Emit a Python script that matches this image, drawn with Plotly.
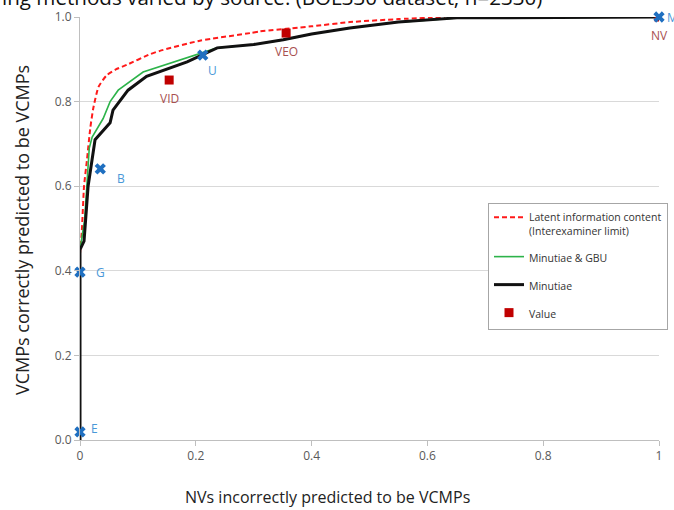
import plotly.graph_objects as go

# ROC-style curves: false positive rate (NVs called VCMPs) vs true positive rate
latent_x = [0.0, 0.003, 0.007, 0.012, 0.018, 0.023, 0.032, 0.046, 0.062, 0.081, 0.121, 0.138, 0.207, 0.294, 0.311, 0.40, 0.466, 0.55, 0.63]
latent_y = [0.44, 0.49, 0.60, 0.662, 0.74, 0.785, 0.835, 0.862, 0.876, 0.887, 0.912, 0.920, 0.944, 0.962, 0.966, 0.978, 0.988, 0.995, 1.0]

gbu_x = [0.0, 0.0, 0.008, 0.016, 0.021, 0.040, 0.052, 0.066, 0.109, 0.207, 0.237, 0.30, 0.351, 0.40, 0.466, 0.55, 0.651, 1.0]
gbu_y = [0.0, 0.45, 0.52, 0.69, 0.716, 0.76, 0.80, 0.827, 0.87, 0.915, 0.927, 0.935, 0.946, 0.96, 0.974, 0.988, 0.998, 1.0]

min_x = [0.0, 0.0, 0.007, 0.014, 0.026, 0.052, 0.057, 0.083, 0.115, 0.185, 0.237, 0.30, 0.351, 0.40, 0.466, 0.55, 0.651, 1.0]
min_y = [0.0, 0.45, 0.47, 0.60, 0.71, 0.75, 0.78, 0.827, 0.86, 0.894, 0.927, 0.935, 0.946, 0.96, 0.974, 0.988, 0.998, 1.0]

# Value determinations
value_names = ["VID", "VEO", "NV"]
value_x = [0.154, 0.356, 1.0]
value_y = [0.851, 0.962, 1.0]

# Single-method points
method_names = ["E", "G", "B", "U", "M"]
method_x = [0.0, 0.0, 0.035, 0.212, 1.0]
method_y = [0.019, 0.397, 0.641, 0.910, 1.0]

title_text = "ing methods varied by source. (BOL330 dataset; n=2330)"
x_title = "NVs incorrectly predicted to be VCMPs"
y_title = "VCMPs correctly predicted to be VCMPs"

FONT = "Open Sans"
GRAY = "#595959"

fig = go.Figure()

fig.add_trace(go.Scatter(
    x=latent_x, y=latent_y, mode="lines",
    name="Latent information content<br>(Interexaminer limit)",
    line=dict(color="#FF1A1A", width=2, dash="5px,3px", shape="spline", smoothing=0.5),
    legendgroup="a",
))
fig.add_trace(go.Scatter(
    x=gbu_x, y=gbu_y, mode="lines", name="Minutiae & GBU",
    line=dict(color="#2DB34A", width=1.6), legendgroup="b",
))
fig.add_trace(go.Scatter(
    x=min_x, y=min_y, mode="lines", name="Minutiae",
    line=dict(color="#111111", width=3), legendgroup="c",
))
fig.add_trace(go.Scatter(
    x=value_x, y=value_y, mode="markers", name="Value",
    marker=dict(symbol="square", size=9, color="#C00000"), legendgroup="d",
))
fig.add_trace(go.Scatter(
    x=method_x, y=method_y, mode="markers", showlegend=False,
    marker=dict(symbol="x", size=10, color="#1F6FC0", line=dict(width=0)),
    cliponaxis=False,
))

# point labels
for name, x, y in zip(value_names, value_x, value_y):
    fig.add_annotation(x=x, y=y, text=name, showarrow=False, yshift=-18, xshift=0,
                       font=dict(family=FONT, size=12, color="#A85050"))
method_offsets = {"E": (14, 3), "G": (20, 0), "B": (21, -10), "U": (10, -15), "M": (13, 0)}
for name, x, y in zip(method_names, method_x, method_y):
    dx, dy = method_offsets[name]
    fig.add_annotation(x=x, y=y, text=name, showarrow=False, xshift=dx, yshift=dy,
                       font=dict(family=FONT, size=12, color="#4A98D8"))

# partially visible heading at the very top
fig.add_annotation(xref="paper", yref="paper", x=-80 / 579, y=(440 + 3) / 423,
                   xanchor="left", yanchor="middle", showarrow=False,
                   text=title_text, font=dict(family=FONT, size=20.6, color="#111111"))

# axis titles
fig.add_annotation(xref="paper", yref="paper", x=(327 - 80) / 579, y=(440 - 497) / 423,
                   xanchor="center", yanchor="middle", showarrow=False,
                   text=x_title, font=dict(family=FONT, size=16, color="#222222"))
fig.add_annotation(xref="paper", yref="paper", x=(22 - 80) / 579, y=(440 - 230) / 423,
                   xanchor="center", yanchor="middle", showarrow=False, textangle=-90,
                   text=y_title, font=dict(family=FONT, size=18, color="#222222"))

fig.update_layout(
    width=674, height=510,
    margin=dict(l=80, r=15, t=17, b=70, autoexpand=False),
    paper_bgcolor="white", plot_bgcolor="white",
    font=dict(family=FONT, color=GRAY),
    legend=dict(
        x=(488 - 80) / 579, y=(440 - 203) / 423, xanchor="left", yanchor="top",
        bordercolor="#A6A6A6", borderwidth=1, bgcolor="white",
        font=dict(family=FONT, size=10.5, color="#333333"),
        traceorder="grouped", tracegroupgap=9, valign="top",
    ),
)
fig.update_xaxes(
    range=[0, 1], tickvals=[0, 0.2, 0.4, 0.6, 0.8, 1], ticktext=["0", "0.2", "0.4", "0.6", "0.8", "1"],
    showgrid=False, zeroline=False, showline=True, linecolor="#BFBFBF", linewidth=1,
    ticks="outside", ticklen=5, tickcolor="#BFBFBF",
    tickfont=dict(family=FONT, size=12, color=GRAY),
)
fig.update_yaxes(
    range=[0, 1], tickvals=[0, 0.2, 0.4, 0.6, 0.8, 1.0], tickformat=".1f",
    showgrid=True, gridcolor="#D9D9D9", gridwidth=1, zeroline=False,
    showline=True, linecolor="#BFBFBF", linewidth=1,
    ticks="outside", ticklen=5, tickcolor="#BFBFBF",
    tickfont=dict(family=FONT, size=12, color=GRAY),
)

fig.write_html("out.html")
